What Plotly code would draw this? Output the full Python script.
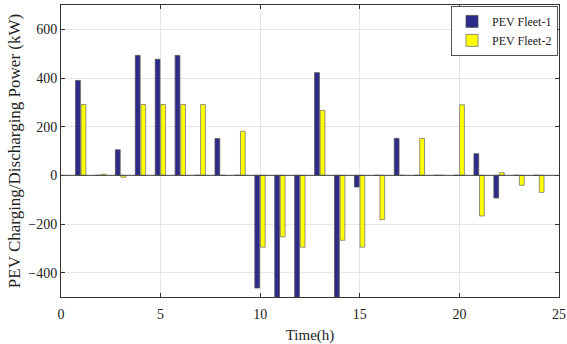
import plotly.graph_objects as go

hours = list(range(1, 25))
fleet1 = [390, 0, 105, 493, 477, 493, 0, 151, 0, -463, -500, -500,
          422, -500, -48, 0, 152, 0, 0, 0, 89, -93, 0, 0]
fleet2 = [291, 5, -8, 291, 291, 291, 291, 0, 181, -295, -253, -295,
          267, -267, -295, -182, 0, 152, 0, 290, -167, 11, -41, -70]
x_ticks = [0, 5, 10, 15, 20, 25]
y_ticks = [-400, -200, 0, 200, 400, 600]

font = "Liberation Serif"

fig = go.Figure()
fig.add_trace(go.Bar(x=hours, y=fleet1, name="PEV Fleet-1",
                     marker=dict(color="#2E2A8A", line=dict(color="#555555", width=0.8)),
                     width=0.24, offset=-0.27))
fig.add_trace(go.Bar(x=hours, y=fleet2, name="PEV Fleet-2",
                     marker=dict(color="#FFFF00", line=dict(color="#777777", width=0.8)),
                     width=0.24, offset=0.01))

axis_common = dict(showline=True, linecolor="#333333", linewidth=1, mirror="ticks",
                   ticks="inside", ticklen=4, tickcolor="#333333",
                   showgrid=True, gridcolor="#E6E6E6", gridwidth=1,
                   zeroline=False, automargin=False, ticklabeloverflow="allow",
                   tickfont=dict(family=font, size=14, color="#222222"))

fig.update_layout(
    width=567, height=344,
    margin=dict(l=61, r=8, t=5, b=47, autoexpand=False),
    paper_bgcolor="white", plot_bgcolor="white",
    barmode="overlay",
    font=dict(family=font, color="#222222"),
    xaxis=dict(range=[0, 25], tickvals=x_ticks, ticklabelstandoff=4,
               title=dict(text="Time(h)", font=dict(family=font, size=15), standoff=8),
               **axis_common),
    yaxis=dict(range=[-500, 700], tickvals=y_ticks,
               title=dict(text="PEV Charging/Discharging Power (kW)", font=dict(family=font, size=17), standoff=3),
               **axis_common),
    legend=dict(x=0.998, y=0.997, xanchor="right", yanchor="top",
                bordercolor="#555555", borderwidth=1, bgcolor="white",
                font=dict(family=font, size=12), tracegroupgap=0,
                itemwidth=30),
    showlegend=True,
)
fig.add_shape(type="line", xref="paper", yref="y", x0=0, x1=1, y0=0, y1=0,
              line=dict(color="#444444", width=1))

fig.write_html("out.html", config={"displayModeBar": False},
               post_script="document.body.style.margin='0';document.body.style.padding='0';")
